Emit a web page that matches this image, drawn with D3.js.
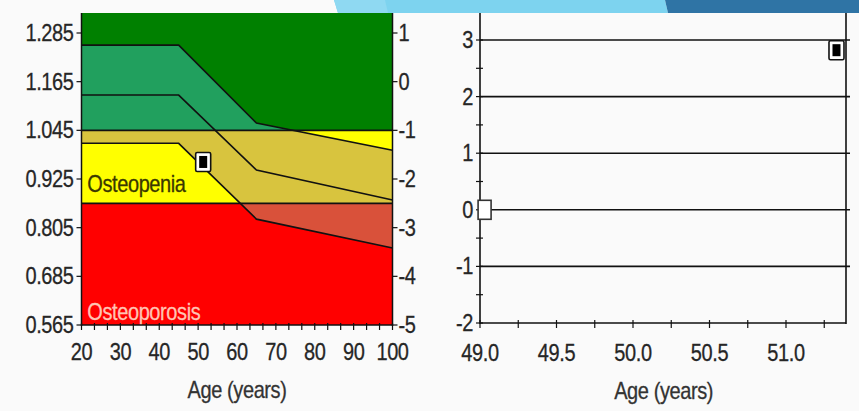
<!DOCTYPE html>
<html><head><meta charset="utf-8">
<script src="https://cdn.jsdelivr.net/npm/d3@7"></script>
<style>
body{margin:0;background:#fafafa;}
svg{display:block;font-family:"Liberation Sans",Arial,sans-serif;}
</style>
</head><body><svg id="c" width="859" height="411"></svg>
<script>
// ---------- data ----------
const bmdTicks = [0.565, 0.685, 0.805, 0.925, 1.045, 1.165, 1.285];
const bmdLabels = ["0.565", "0.685", "0.805", "0.925", "1.045", "1.165", "1.285"];
const tScoreTicks = [-5, -4, -3, -2, -1, 0, 1];
const ageTicks = [20, 30, 40, 50, 60, 70, 80, 90, 100];
const curveAges = [20, 45, 65, 100];
const curveUpper = [1.255, 1.255, 1.063, 0.996];
const curveMiddle = [1.132, 1.132, 0.947, 0.873];
const curveLower = [1.013, 1.013, 0.826, 0.755];
const thresholdNormal = 1.045;       // T-score -1
const thresholdOsteoporosis = 0.865; // T-score -2.5
const patientAge = [51.3];
const patientBmd = [0.967];
const zoneLabels = ["Osteopenia", "Osteoporosis"];

const trendTickX = [49.0, 49.5, 50.0, 50.5, 51.0];
const trendTickXLabels = ["49.0", "49.5", "50.0", "50.5", "51.0"];
const trendTickY = [-2, -1, 0, 1, 2, 3];
const trendAges = [49.03, 51.33];
const trendValues = [0, 2.82];
const axisTitle = "Age (years)";

// ---------- setup ----------
const svg = d3.select("#c");
const W = 859, H = 411, plotTop = 13;
const ink = "#111", txt = "#262626";
const FS = 20;

function label(g, x, y, s, anchor, fill) {
  const f = fill || txt;
  return g.append("text")
    .attr("transform", `translate(${x},${y}) scale(1,1.18)`)
    .attr("text-anchor", anchor || "start")
    .attr("font-size", FS)
    .attr("letter-spacing", "-0.4px")
    .attr("fill", f)
    .attr("stroke", f).attr("stroke-width", 0.25)
    .text(s);
}

// ---------- left chart ----------
const xL = d3.scaleLinear().domain([20, 100]).range([81.5, 392.5]);
const yL = d3.scaleLinear().domain([0.565, 1.285]).range([325, 33]);
const tL = d3.scaleLinear().domain([-5, 1]).range([325, 33]);
const topVal = yL.invert(plotTop);
const gL = svg.append("g");

const zoneBounds = [
  [thresholdNormal, topVal],
  [thresholdOsteoporosis, thresholdNormal],
  [0.565, thresholdOsteoporosis]
];
const zoneBase = ["#008000", "#ffff00", "#ff0000"];
const zoneBand = ["#21a05e", "#d8c43e", "#d9513a"];

const bandData = curveAges.map((a, i) => ({a, u: curveUpper[i], l: curveLower[i]}));
const band = d3.area().x(d => xL(d.a)).y0(d => yL(d.u)).y1(d => yL(d.l));

zoneBounds.forEach((b, i) => {
  const id = "zclip" + i;
  gL.append("clipPath").attr("id", id).append("rect")
    .attr("x", xL(20)).attr("width", xL(100) - xL(20))
    .attr("y", yL(b[1])).attr("height", yL(b[0]) - yL(b[1]));
  gL.append("rect")
    .attr("x", xL(20)).attr("width", xL(100) - xL(20))
    .attr("y", yL(b[1])).attr("height", yL(b[0]) - yL(b[1]))
    .attr("fill", zoneBase[i]);
  gL.append("path").datum(bandData).attr("d", band)
    .attr("fill", zoneBand[i]).attr("clip-path", `url(#${id})`);
});

const line = d3.line().x(d => xL(d[0])).y(d => yL(d[1]));
[curveUpper, curveMiddle, curveLower].forEach(c => {
  gL.append("path").datum(curveAges.map((a, i) => [a, c[i]]))
    .attr("d", line).attr("fill", "none").attr("stroke", ink).attr("stroke-width", 1.6);
});
[thresholdNormal, thresholdOsteoporosis].forEach(v => {
  gL.append("line").attr("x1", xL(20)).attr("x2", xL(100))
    .attr("y1", yL(v)).attr("y2", yL(v)).attr("stroke", ink).attr("stroke-width", 1.6);
});

label(gL, xL(21.5), yL(0.893), zoneLabels[0], "start", "#3a3800");
label(gL, xL(21.5), yL(0.578), zoneLabels[1], "start", "#ffc4b4");

// axes frame
gL.append("line").attr("x1", xL(20)).attr("x2", xL(20)).attr("y1", plotTop).attr("y2", yL(0.565) + 1).attr("stroke", ink).attr("stroke-width", 1.5);
gL.append("line").attr("x1", xL(100)).attr("x2", xL(100)).attr("y1", plotTop).attr("y2", yL(0.565) + 1).attr("stroke", ink).attr("stroke-width", 1.5);
gL.append("line").attr("x1", xL(20)).attr("x2", xL(100)).attr("y1", yL(0.565)).attr("y2", yL(0.565)).attr("stroke", ink).attr("stroke-width", 1.5);

// left ticks & labels
bmdTicks.forEach((v, i) => {
  gL.append("line").attr("x1", xL(20) - 5).attr("x2", xL(20)).attr("y1", yL(v)).attr("y2", yL(v)).attr("stroke", ink).attr("stroke-width", 1.2);
  label(gL, xL(20) - 8, yL(v) + 8, bmdLabels[i], "end");
});
// right T-score ticks & labels
tScoreTicks.forEach(v => {
  gL.append("line").attr("x1", xL(100)).attr("x2", xL(100) + 5).attr("y1", tL(v)).attr("y2", tL(v)).attr("stroke", ink).attr("stroke-width", 1.2);
  label(gL, xL(100) + 6, tL(v) + 8, String(v), "start");
});
// bottom ticks
d3.range(0, 25).map(i => 20 + i * 10 / 3).forEach(a => {
  gL.append("line").attr("x1", xL(a)).attr("x2", xL(a)).attr("y1", yL(0.565) - 2).attr("y2", yL(0.565) + 5).attr("stroke", ink).attr("stroke-width", 1.2);
});
ageTicks.forEach(a => label(gL, xL(a), 360, String(a), "middle"));
label(gL, xL(60), 398, axisTitle, "middle", "#333");

// markers
function marker(g, cx, cy, filled) {
  if (filled) {
    g.append("rect").attr("x", cx - 7.5).attr("y", cy - 9.5).attr("width", 15).attr("height", 19)
      .attr("rx", 1.5).attr("fill", "#fff").attr("stroke", ink).attr("stroke-width", 1.6);
    g.append("rect").attr("x", cx - 4).attr("y", cy - 6).attr("width", 8).attr("height", 12).attr("fill", "#000");
  } else {
    g.append("rect").attr("x", cx - 6.5).attr("y", cy - 9.5).attr("width", 13).attr("height", 19)
      .attr("fill", "#fff").attr("stroke", "#333").attr("stroke-width", 1.6);
  }
}
patientAge.forEach((a, i) => marker(gL, xL(a), yL(patientBmd[i]), true));

// ---------- right chart ----------
const xR = d3.scaleLinear().domain([49, 51]).range([480, 786]);
const yR = d3.scaleLinear().domain([-2, 3]).range([323, 40]);
const rightEdge = 846;
const gR = svg.append("g");

trendTickY.filter(v => v > -2).forEach(v => {
  gR.append("line").attr("x1", xR(49)).attr("x2", rightEdge + 4).attr("y1", yR(v)).attr("y2", yR(v))
    .attr("stroke", ink).attr("stroke-width", 1.6);
});
gR.append("line").attr("x1", xR(49)).attr("x2", xR(49)).attr("y1", plotTop).attr("y2", yR(-2) + 1).attr("stroke", ink).attr("stroke-width", 1.6);
gR.append("line").attr("x1", rightEdge).attr("x2", rightEdge).attr("y1", plotTop).attr("y2", yR(-2) + 1).attr("stroke", ink).attr("stroke-width", 1.6);
gR.append("line").attr("x1", xR(49)).attr("x2", rightEdge).attr("y1", yR(-2)).attr("y2", yR(-2)).attr("stroke", ink).attr("stroke-width", 1.6);

d3.range(-2, 3.51, 0.5).forEach(v => {
  gR.append("line").attr("x1", xR(49) - 4).attr("x2", xR(49) + 3).attr("y1", yR(v)).attr("y2", yR(v)).attr("stroke", ink).attr("stroke-width", 1.2);
});
trendTickY.forEach(v => label(gR, xR(49) - 7, yR(v) + 8, String(v), "end"));

d3.range(49, 51.26, 0.25).forEach(a => {
  gR.append("line").attr("x1", xR(a)).attr("x2", xR(a)).attr("y1", yR(-2) - 3).attr("y2", yR(-2) + 5).attr("stroke", ink).attr("stroke-width", 1.2);
});
trendTickX.forEach((a, i) => label(gR, xR(a), 361, trendTickXLabels[i], "middle"));
label(gR, xR(50.2), 399, axisTitle, "middle", "#333");

trendAges.forEach((a, i) => marker(gR, xR(a), yR(trendValues[i]), i > 0));

// ---------- top banner (slide decoration) ----------
const gT = svg.append("g");
gT.append("rect").attr("x", 0).attr("y", 0).attr("width", W).attr("height", plotTop).attr("fill", "#fafafa");
gT.append("polygon").attr("points", "334,0 665,0 668,13 338,13").attr("fill", "#7dd3ef");
gT.append("polygon").attr("points", "334,0 385,0 388,13 338,13").attr("fill", "#8fd9f2");
gT.append("polygon").attr("points", `665,0 ${W},0 ${W},13 668,13`).attr("fill", "#2f74a5");
</script>
</body></html>
